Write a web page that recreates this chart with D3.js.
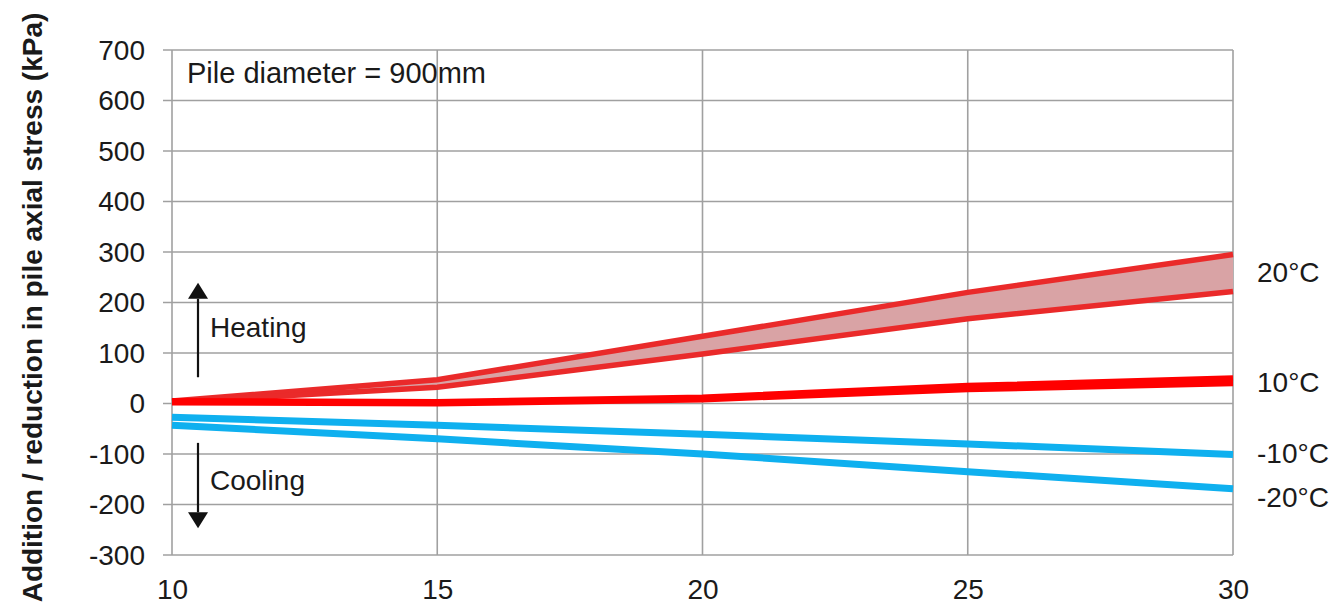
<!DOCTYPE html>
<html>
<head>
<meta charset="utf-8">
<script src="https://cdn.jsdelivr.net/npm/d3@7"></script>
<style>
  html, body { margin: 0; padding: 0; background: #fff; }
  svg text { font-family: "Liberation Sans", Arial, sans-serif; fill: #1a1a1a; }
</style>
</head>
<body>
<svg id="chart" width="1337" height="612"></svg>
<script>
// Pile length (m) along the x axis
const pileLength = [10, 15, 20, 25, 30];

// Change in axial stress (kPa) for each temperature change
const heat20Upper = [5, 47, 133, 220, 295];
const heat20Lower = [3, 32, 98, 168, 222];
const heat10Upper = [5, 3, 12, 35, 50];
const heat10Lower = [2, 0, 8, 28, 40];
const cool10 = [-27, -43, -61, -80, -101];
const cool20 = [-43, -70, -100, -135, -169];

const yTicks = [-300, -200, -100, 0, 100, 200, 300, 400, 500, 600, 700];
const xTicks = [10, 15, 20, 25, 30];

const seriesLabels = [
  { text: "20°C", value: 260 },
  { text: "10°C", value: 43 },
  { text: "-10°C", value: -98 },
  { text: "-20°C", value: -185 }
];

const svg = d3.select("#chart");
const plotLeft = 172, plotRight = 1233, plotTop = 50, plotBottom = 555;
const fontSize = 28;

const x = d3.scaleLinear().domain([10, 30]).range([plotLeft, plotRight]);
const y = d3.scaleLinear().domain([-300, 700]).range([plotBottom, plotTop]);

const gridColor = "#a0a0a0";

// Gridlines
svg.append("g").selectAll("line").data(yTicks).join("line")
  .attr("x1", plotLeft - 9).attr("x2", plotRight)
  .attr("y1", d => y(d)).attr("y2", d => y(d))
  .attr("stroke", gridColor).attr("stroke-width", 1.6);
svg.append("g").selectAll("line").data(xTicks).join("line")
  .attr("x1", d => x(d)).attr("x2", d => x(d))
  .attr("y1", plotTop).attr("y2", plotBottom)
  .attr("stroke", gridColor).attr("stroke-width", 1.6);

// Tick labels via d3 axes (tick lines hidden, labels only)
const yAxis = svg.append("g").attr("transform", `translate(${plotLeft - 27},0)`)
  .call(d3.axisLeft(y).tickValues(yTicks).tickSize(0).tickPadding(0)
    .tickFormat(d => String(d)));
yAxis.select(".domain").remove();
yAxis.selectAll("text").attr("font-size", fontSize).attr("dy", "0.33em")
  .attr("font-family", "Liberation Sans, Arial, sans-serif").attr("fill", "#1a1a1a");

const xAxis = svg.append("g").attr("transform", `translate(0,${plotBottom})`)
  .call(d3.axisBottom(x).tickValues(xTicks).tickSize(0).tickPadding(0)
    .tickFormat(d => String(d)));
xAxis.select(".domain").remove();
xAxis.selectAll("text").attr("font-size", fontSize).attr("y", 44).attr("dy", 0)
  .attr("font-family", "Liberation Sans, Arial, sans-serif").attr("fill", "#1a1a1a");

// Y axis title
svg.append("text")
  .attr("transform", `translate(42,${(plotTop + plotBottom) / 2 + 5}) rotate(-90)`)
  .attr("text-anchor", "middle")
  .attr("font-size", fontSize).attr("font-weight", "bold")
  .text("Addition / reduction in pile axial stress (kPa)");

// Annotation
svg.append("text").attr("x", 187).attr("y", 83).attr("font-size", 29)
  .text("Pile diameter = 900mm");

const line = d3.line().x((d, i) => x(pileLength[i])).y(d => y(d));
const area20 = d3.area()
  .x((d, i) => x(pileLength[i]))
  .y0((d, i) => y(heat20Lower[i]))
  .y1(d => y(d));

// 20°C band
svg.append("path").datum(heat20Upper).attr("d", area20)
  .attr("fill", "#d9a3a5");
[heat20Upper, heat20Lower].forEach(s => {
  svg.append("path").datum(s).attr("d", line)
    .attr("fill", "none").attr("stroke", "#ea2a2a").attr("stroke-width", 5.5);
});

// 10°C band
const area10 = d3.area()
  .x((d, i) => x(pileLength[i]))
  .y0((d, i) => y(heat10Lower[i]))
  .y1(d => y(d));
svg.append("path").datum(heat10Upper).attr("d", area10).attr("fill", "#ff0000");
[heat10Upper, heat10Lower].forEach(s => {
  svg.append("path").datum(s).attr("d", line)
    .attr("fill", "none").attr("stroke", "#ff0000").attr("stroke-width", 6);
});

// Cooling lines
[cool10, cool20].forEach(s => {
  svg.append("path").datum(s).attr("d", line)
    .attr("fill", "none").attr("stroke", "#0fb0ef").attr("stroke-width", 7);
});

// Heating / cooling arrows
function arrow(xPos, fromVal, toVal) {
  const y0 = y(fromVal), y1 = y(toVal);
  const dir = y1 < y0 ? 1 : -1;      // 1 = pointing up
  const headLen = 16, headHalf = 10;
  svg.append("line").attr("x1", xPos).attr("x2", xPos)
    .attr("y1", y0).attr("y2", y1 + dir * headLen)
    .attr("stroke", "#111").attr("stroke-width", 2.2);
  svg.append("path")
    .attr("d", `M${xPos},${y1} L${xPos - headHalf},${y1 + dir * headLen} L${xPos + headHalf},${y1 + dir * headLen} Z`)
    .attr("fill", "#111");
}
arrow(198, 52, 239);
arrow(198, -78, -247);

svg.append("text").attr("x", 210).attr("y", 337).attr("font-size", fontSize).text("Heating");
svg.append("text").attr("x", 210).attr("y", 490).attr("font-size", fontSize).text("Cooling");

// Series labels on the right
svg.append("g").selectAll("text").data(seriesLabels).join("text")
  .attr("x", 1257).attr("y", d => y(d.value)).attr("dy", "0.36em")
  .attr("font-size", fontSize).text(d => d.text);
</script>
</body>
</html>
